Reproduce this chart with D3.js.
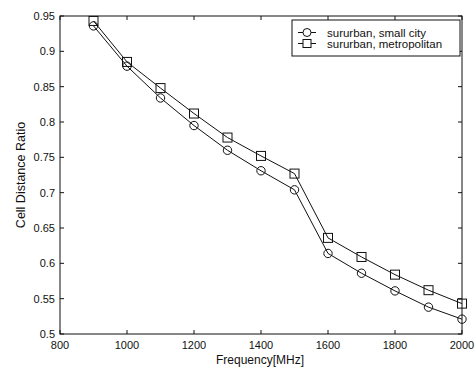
<!DOCTYPE html>
<html><head><meta charset="utf-8">
<script src="https://cdn.jsdelivr.net/npm/d3@7"></script>
<style>body{margin:0;background:#fff}svg{display:block}text{font-family:"Liberation Sans",Arial,sans-serif;fill:#111}</style>
</head><body><svg id="c" width="476" height="370"></svg>
<script>
const freqs = [900,1000,1100,1200,1300,1400,1500,1600,1700,1800,1900,2000];
const smallCity = [0.936,0.879,0.834,0.795,0.760,0.731,0.704,0.614,0.586,0.561,0.538,0.521];
const metropolitan = [0.943,0.885,0.848,0.812,0.778,0.752,0.727,0.636,0.609,0.584,0.562,0.543];
const xTicks = [800,1000,1200,1400,1600,1800,2000];
const yTicks = [0.5,0.55,0.6,0.65,0.7,0.75,0.8,0.85,0.9,0.95];
const seriesNames = ["sururban, small city","sururban, metropolitan"];

const svg = d3.select("#c");
const L=60,R=462,T=16,B=334;
const x = d3.scaleLinear().domain([800,2000]).range([L,R]);
const y = d3.scaleLinear().domain([0.5,0.95]).range([B,T]);
const ink="#111";

svg.append("rect").attr("x",L).attr("y",T).attr("width",R-L).attr("height",B-T)
  .attr("fill","none").attr("stroke",ink).attr("stroke-width",1);

const g = svg.append("g");
xTicks.forEach(t=>{
  g.append("line").attr("x1",x(t)).attr("x2",x(t)).attr("y1",B).attr("y2",B-4).attr("stroke",ink);
  g.append("line").attr("x1",x(t)).attr("x2",x(t)).attr("y1",T).attr("y2",T+4).attr("stroke",ink);
  g.append("text").attr("x",x(t)).attr("y",B+15).attr("text-anchor","middle").attr("font-size",11).text(t);
});
yTicks.forEach(t=>{
  g.append("line").attr("x1",L).attr("x2",L+4).attr("y1",y(t)).attr("y2",y(t)).attr("stroke",ink);
  g.append("line").attr("x1",R).attr("x2",R-4).attr("y1",y(t)).attr("y2",y(t)).attr("stroke",ink);
  g.append("text").attr("x",L-5).attr("y",y(t)+(t===0.5?4:4)).attr("text-anchor","end").attr("font-size",11).text(d3.format("")(t));
});

svg.append("text").attr("x",260).attr("y",364).attr("text-anchor","middle").attr("font-size",12).text("Frequency[MHz]");
svg.append("text").attr("transform",`translate(25,${(T+B)/2}) rotate(-90)`).attr("text-anchor","middle").attr("font-size",12.5).text("Cell Distance Ratio");

const line = d3.line().x((d,i)=>x(freqs[i])).y(d=>y(d));
[smallCity,metropolitan].forEach((s,k)=>{
  svg.append("path").attr("d",line(s)).attr("fill","none").attr("stroke",ink).attr("stroke-width",1);
  s.forEach((v,i)=>{
    if(k===0) svg.append("circle").attr("cx",x(freqs[i])).attr("cy",y(v)).attr("r",4.2).attr("fill","none").attr("stroke",ink);
    else svg.append("rect").attr("x",x(freqs[i])-4.5).attr("y",y(v)-4.5).attr("width",9).attr("height",9).attr("fill","none").attr("stroke",ink);
  });
});

const lg = svg.append("g");
lg.append("rect").attr("x",292).attr("y",20).attr("width",168).attr("height",36).attr("fill","#fff").attr("stroke",ink);
seriesNames.forEach((n,k)=>{
  const yy = 32.5 + k*11;
  lg.append("line").attr("x1",298).attr("x2",316).attr("y1",yy).attr("y2",yy).attr("stroke",ink);
  if(k===0) lg.append("circle").attr("cx",307).attr("cy",yy).attr("r",4).attr("fill","#fff").attr("stroke",ink);
  else lg.append("rect").attr("x",303).attr("y",yy-4).attr("width",8).attr("height",8).attr("fill","#fff").attr("stroke",ink);
  lg.append("text").attr("x",327).attr("y",yy+4).attr("font-size",11.5).text(n);
});
</script></body></html>
